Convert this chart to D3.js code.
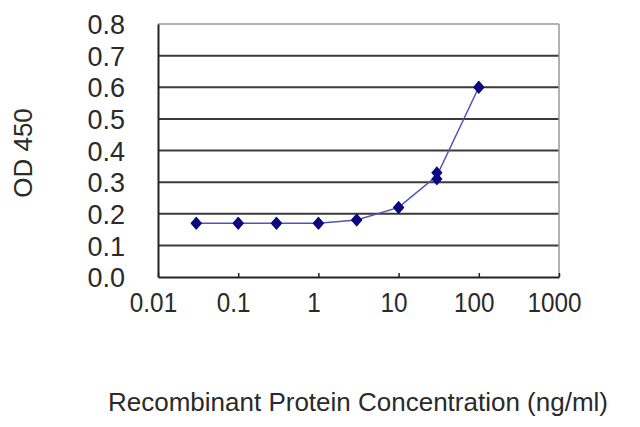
<!DOCTYPE html>
<html>
<head>
<meta charset="utf-8">
<script src="https://cdn.jsdelivr.net/npm/d3@7"></script>
<style>
  body { margin: 0; background: #fff; }
  svg text { font-family: "Liberation Sans", Arial, sans-serif; fill: #2a2a2a; }
</style>
</head>
<body>
<svg class="chart-svg" width="640" height="427"></svg>
<script>
// concentrations (ng/ml) and duplicate OD 450 readings
const concentrations = [0.03, 0.1, 0.3, 1, 3, 10, 30, 100]
const odRep1 = [0.17, 0.17, 0.17, 0.17, 0.18, 0.22, 0.33, 0.60]
const odRep2 = [0.17, 0.17, 0.17, 0.17, 0.18, 0.22, 0.31, 0.60]
const xTicks = [0.01, 0.1, 1, 10, 100, 1000]
const xTickLabels = ['0.01', '0.1', '1', '10', '100', '1000']
const yTicks = [0, 0.1, 0.2, 0.3, 0.4, 0.5, 0.6, 0.7, 0.8]

const margin = { left: 158, right: 81, top: 24, bottom: 150 }
const width = 640 - margin.left - margin.right
const height = 427 - margin.top - margin.bottom

const svg = d3.select('.chart-svg')
const g = svg.append('g').attr('transform', `translate(${margin.left},${margin.top})`)

const xScale = d3.scaleLog().domain([0.01, 1000]).range([0, width])
const yScale = d3.scaleLinear().domain([0, 0.8]).range([height, 0])

// gridlines
g.selectAll('.grid')
  .data(yTicks.filter(t => t > 0 && t < 0.8))
  .enter()
  .append('line')
  .attr('class', 'grid')
  .attr('x1', 0)
  .attr('x2', width)
  .attr('y1', d => yScale(d))
  .attr('y2', d => yScale(d))
  .attr('stroke', '#3a3a3a')
  .attr('stroke-width', 2)

// plot frame: gray top/right, dark left/bottom
g.append('line').attr('x1', 0).attr('x2', width).attr('y1', 0).attr('y2', 0)
  .attr('stroke', '#999').attr('stroke-width', 1.5)
g.append('line').attr('x1', width).attr('x2', width).attr('y1', 0).attr('y2', height)
  .attr('stroke', '#999').attr('stroke-width', 1.5)

// y axis
const yAxis = g.append('g')
  .attr('class', 'y axis')
  .call(d3.axisLeft(yScale).tickValues(yTicks).tickFormat(d3.format('.1f')).tickSize(0).tickPadding(33))
yAxis.select('.domain').attr('stroke', '#222').attr('stroke-width', 2)
yAxis.selectAll('text')
  .style('font-size', '27px')
  .attr('dy', '0.36em')

// x axis
const xAxis = g.append('g')
  .attr('class', 'x axis')
  .attr('transform', `translate(0,${height})`)
  .call(d3.axisBottom(xScale).tickValues(xTicks).tickFormat((d, i) => xTickLabels[i]).tickSizeInner(-4).tickSizeOuter(0).tickPadding(35))
xAxis.select('.domain').attr('stroke', '#222').attr('stroke-width', 2)
xAxis.selectAll('.tick line').attr('stroke', '#222').attr('stroke-width', 1.5)
xAxis.selectAll('text')
  .style('font-size', '27px')
  .attr('dy', '0')
  .attr('transform', 'translate(-5,0) scale(0.9,1)')

// series line through mean of replicates
const points = concentrations.map((c, i) => ({ c, od: (odRep1[i] + odRep2[i]) / 2 }))
const line = d3.line()
  .x(d => xScale(d.c))
  .y(d => yScale(d.od))
g.append('path')
  .datum(points)
  .attr('fill', 'none')
  .attr('stroke', '#5252b8')
  .attr('stroke-width', 1.5)
  .attr('d', line)

// replicate markers: square turned 45 degrees, slightly taller than wide
const square = d3.symbol().type(d3.symbolSquare).size(64)
const markers = concentrations.flatMap((c, i) => [{ c, od: odRep1[i] }, { c, od: odRep2[i] }])
g.selectAll('.marker')
  .data(markers)
  .enter()
  .append('path')
  .attr('class', 'marker')
  .attr('d', square)
  .attr('transform', d => `translate(${xScale(d.c)},${yScale(d.od)}) scale(1,1.15) rotate(45)`)
  .attr('fill', '#0a0a80')

// axis titles
svg.append('text')
  .attr('transform', 'translate(32,153) rotate(-90)')
  .attr('text-anchor', 'middle')
  .style('font-size', '26px')
  .text('OD 450')

svg.append('text')
  .attr('transform', 'translate(358,411)')
  .attr('text-anchor', 'middle')
  .style('font-size', '26px')
  .text('Recombinant Protein Concentration (ng/ml)')
</script>
</body>
</html>
